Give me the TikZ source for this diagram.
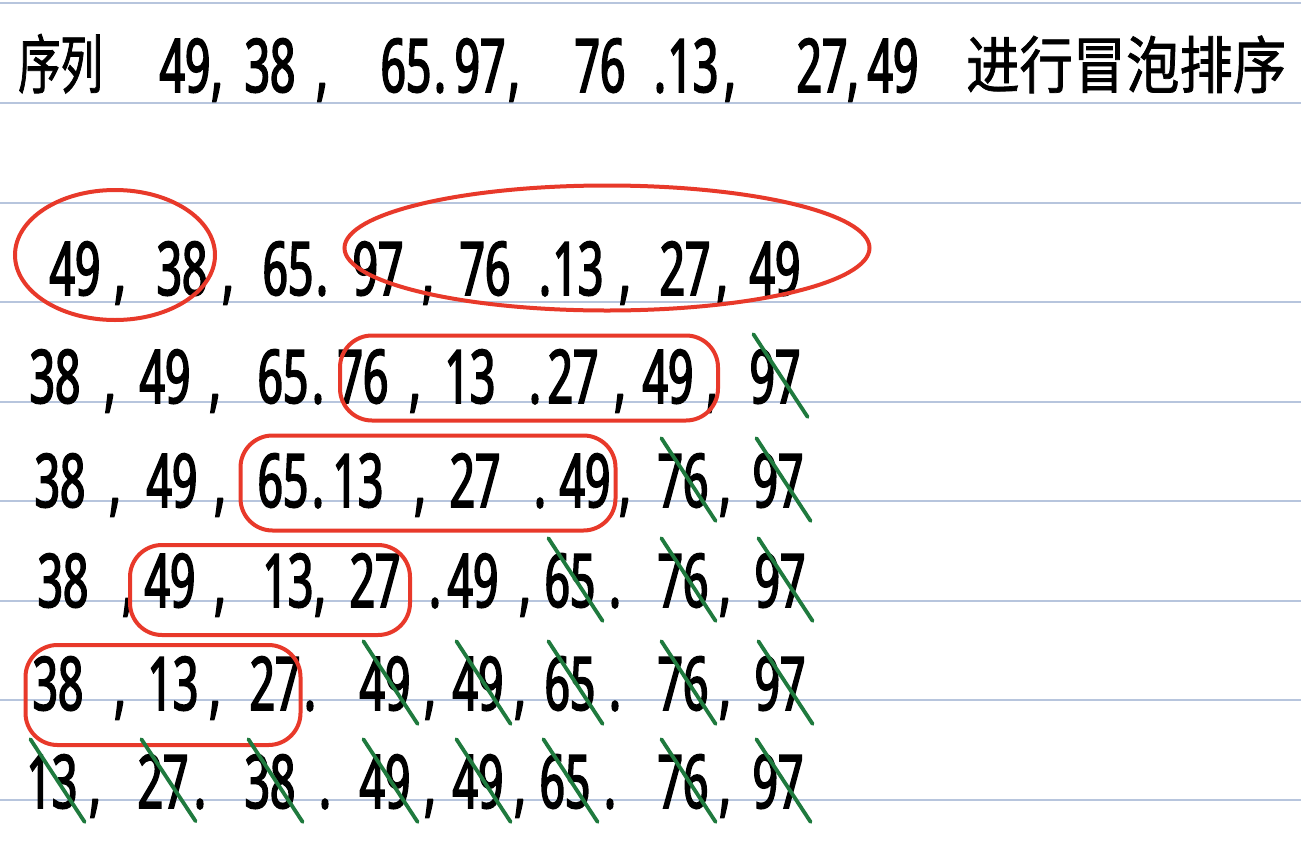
\documentclass[tikz,border=0pt]{standalone}
\usepackage{fontspec}
\usetikzlibrary{shapes.geometric,calc}
\newfontfamily\hand[FakeStretch=0.6,FakeBold=2.2]{Noto Sans}
\newfontfamily\cjkA[FakeStretch=0.66,FakeBold=1.2]{Noto Sans CJK SC}
\newfontfamily\cjkB[FakeStretch=0.86,FakeBold=1.2]{Noto Sans CJK SC}
\definecolor{ruleblue}{HTML}{B7C5DD}
\definecolor{penred}{HTML}{E8392A}
\definecolor{pengreen}{HTML}{1F7A3E}
\tikzset{
  num/.style={anchor=base, inner sep=0pt, font={\hand\fontsize{74}{80}\selectfont}},
  sepmark/.style={anchor=base, inner sep=0pt, font={\hand\fontsize{74}{80}\selectfont}},
  ring/.style={draw=penred, line width=4pt, inner sep=0pt},
  ovalring/.style={ring, ellipse},
  boxring/.style={ring, rectangle, rounded corners=32pt},
  cross/.style={draw=pengreen, line width=3.8pt, line cap=round},
  ruling/.style={draw=ruleblue, line width=1.2pt}
}
\newcommand{\crossout}[1]{\draw[cross] ([shift={(4pt,15pt)}]#1.north west) -- ([shift={(7pt,-13pt)}]#1.south east);}
\begin{document}
\begin{tikzpicture}[x=1pt,y=-1pt]
\fill[white] (0,0) rectangle (1301,854);
\useasboundingbox (0,0) rectangle (1301,854);
% ruled lines
\foreach \yy in {3,103,203,302,402,501,601,700,800}
  \draw[ruling] (0,\yy) -- (1301,\yy);

% title
\node[anchor=base west, inner sep=0pt, font={\cjkA\fontsize{64}{68}\selectfont}] (t0) at (18,88) {序列};
\node[num] (t1) at (185,92) {49};
\node[sepmark] (ts1) at (217,92) {,};
\node[num] (t2) at (270,92) {38};
\node[sepmark] (ts2) at (322,92) {,};
\node[num] (t3) at (406,92) {65};
\node[sepmark] (ts3) at (440,92) {.};
\node[num] (t4) at (480,92) {97};
\node[sepmark] (ts4) at (514,92) {,};
\node[num] (t5) at (600,92) {76};
\node[sepmark] (ts5) at (660,92) {.};
\node[num] (t6) at (693,92) {13};
\node[sepmark] (ts6) at (730,92) {,};
\node[num] (t7) at (822,92) {27};
\node[sepmark] (ts7) at (853,92) {,};
\node[num] (t8) at (893,92) {49};
\node[anchor=base west, inner sep=0pt, font={\cjkB\fontsize{62}{66}\selectfont}] (t9) at (966,88) {进行冒泡排序};

% row A
\node[num] (a1) at (75,295) {49};
\node[sepmark] (as1) at (120,295) {,};
\node[num] (a2) at (182,295) {38};
\node[sepmark] (as2) at (228,295) {,};
\node[num] (a3) at (288,295) {65};
\node[sepmark] (as3) at (322,295) {.};
\node[num] (a4) at (378,295) {97};
\node[sepmark] (as4) at (428,295) {,};
\node[num] (a5) at (485,295) {76};
\node[sepmark] (as5) at (545,295) {.};
\node[num] (a6) at (578,295) {13};
\node[sepmark] (as6) at (625,295) {,};
\node[num] (a7) at (685,295) {27};
\node[sepmark] (as7) at (722,295) {,};
\node[num] (a8) at (775,295) {49};
\node[ovalring, minimum width=200pt, minimum height=130pt] (ra1) at (115,255) {};
\node[ovalring, minimum width=525pt, minimum height=125pt] (ra2) at (607,248) {};

% row B
\node[num] (b1) at (55,403) {38};
\node[sepmark] (bs1) at (110,403) {,};
\node[num] (b2) at (165,403) {49};
\node[sepmark] (bs2) at (215,403) {,};
\node[num] (b3) at (283,403) {65};
\node[sepmark] (bs3) at (318,403) {.};
\node[num] (b4) at (363,403) {76};
\node[sepmark] (bs4) at (415,403) {,};
\node[num] (b5) at (470,403) {13};
\node[sepmark] (bs5) at (535,403) {.};
\node[num] (b6) at (573,403) {27};
\node[sepmark] (bs6) at (620,403) {,};
\node[num] (b7) at (668,403) {49};
\node[sepmark] (bs7) at (712,403) {,};
\node[num] (b8) at (775,403) {97};
\node[boxring, minimum width=378pt, minimum height=85pt] (rb) at (529,378) {};
\crossout{b8}

% row C
\node[num] (c1) at (60,507) {38};
\node[sepmark] (cs1) at (115,507) {,};
\node[num] (c2) at (172,507) {49};
\node[sepmark] (cs2) at (220,507) {,};
\node[num] (c3) at (283,507) {65};
\node[sepmark] (cs3) at (318,507) {.};
\node[num] (c4) at (358,507) {13};
\node[sepmark] (cs4) at (420,507) {,};
\node[num] (c5) at (475,507) {27};
\node[sepmark] (cs5) at (540,507) {.};
\node[num] (c6) at (585,507) {49};
\node[sepmark] (cs6) at (625,507) {,};
\node[num] (c7) at (683,507) {76};
\node[sepmark] (cs7) at (725,507) {,};
\node[num] (c8) at (778,507) {97};
\node[boxring, minimum width=375pt, minimum height=95pt] (rc) at (428,483) {};
\crossout{c7}
\crossout{c8}

% row D
\node[num] (d1) at (63,607) {38};
\node[sepmark] (ds1) at (128,607) {,};
\node[num] (d2) at (170,607) {49};
\node[sepmark] (ds2) at (220,607) {,};
\node[num] (d3) at (288,607) {13};
\node[sepmark] (ds3) at (320,607) {,};
\node[num] (d4) at (375,607) {27};
\node[sepmark] (ds4) at (435,607) {.};
\node[num] (d5) at (473,607) {49};
\node[sepmark] (ds5) at (525,607) {,};
\node[num] (d6) at (570,607) {65};
\node[sepmark] (ds6) at (615,607) {.};
\node[num] (d7) at (683,607) {76};
\node[sepmark] (ds7) at (725,607) {,};
\node[num] (d8) at (780,607) {97};
\node[boxring, minimum width=280pt, minimum height=90pt] (rd) at (270,590) {};
\crossout{d6}
\crossout{d7}
\crossout{d8}

% row E
\node[num] (e1) at (58,710) {38};
\node[sepmark] (es1) at (120,710) {,};
\node[num] (e2) at (173,710) {13};
\node[sepmark] (es2) at (215,710) {,};
\node[num] (e3) at (275,710) {27};
\node[sepmark] (es3) at (310,710) {.};
\node[num] (e4) at (385,710) {49};
\node[sepmark] (es4) at (430,710) {,};
\node[num] (e5) at (478,710) {49};
\node[sepmark] (es5) at (520,710) {,};
\node[num] (e6) at (570,710) {65};
\node[sepmark] (es6) at (615,710) {.};
\node[num] (e7) at (683,710) {76};
\node[sepmark] (es7) at (725,710) {,};
\node[num] (e8) at (780,710) {97};
\node[boxring, minimum width=275pt, minimum height=100pt] (re) at (163,695) {};
\crossout{e4}
\crossout{e5}
\crossout{e6}
\crossout{e7}
\crossout{e8}

% row F
\node[num] (f1) at (52,808) {13};
\node[sepmark] (fs1) at (95,808) {,};
\node[num] (f2) at (163,808) {27};
\node[sepmark] (fs2) at (200,808) {.};
\node[num] (f3) at (270,808) {38};
\node[sepmark] (fs3) at (325,808) {.};
\node[num] (f4) at (385,808) {49};
\node[sepmark] (fs4) at (430,808) {,};
\node[num] (f5) at (478,808) {49};
\node[sepmark] (fs5) at (520,808) {,};
\node[num] (f6) at (565,808) {65};
\node[sepmark] (fs6) at (610,808) {.};
\node[num] (f7) at (683,808) {76};
\node[sepmark] (fs7) at (725,808) {,};
\node[num] (f8) at (778,808) {97};
\foreach \n in {f1,f2,f3,f4,f5,f6,f7,f8} {\crossout{\n}}
\end{tikzpicture}
\end{document}
